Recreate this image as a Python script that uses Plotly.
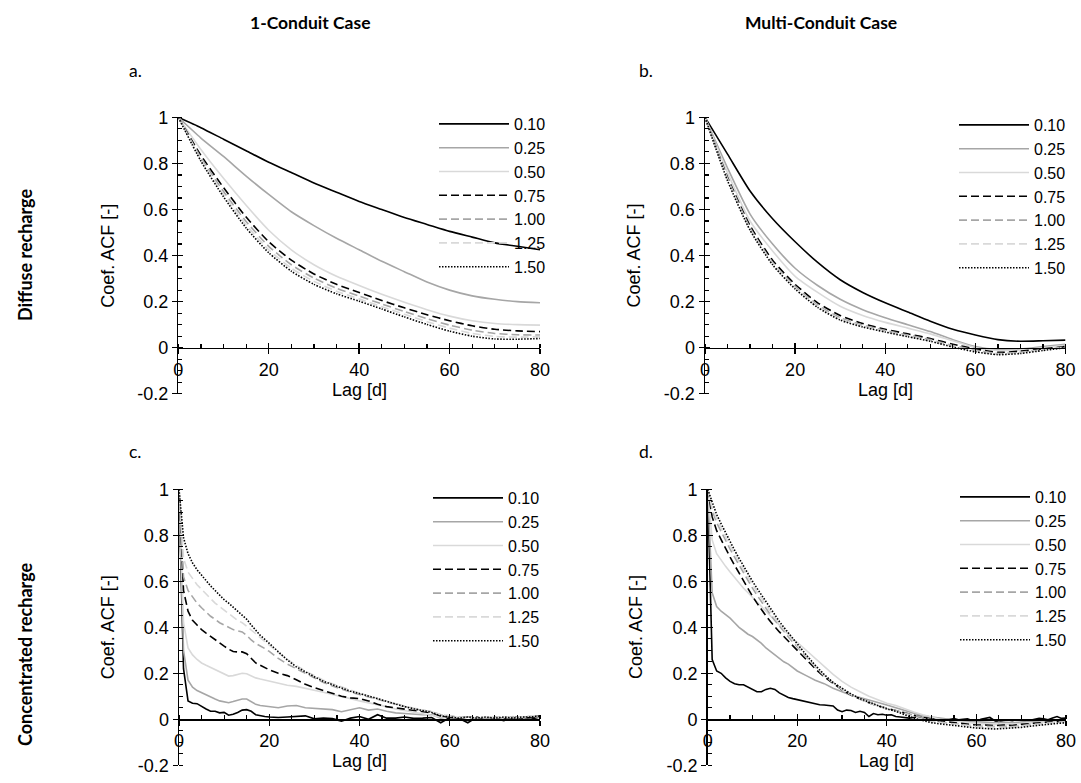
import plotly.graph_objects as go

# ---------------- data ----------------
SERIES_NAMES = ["0.10", "0.25", "0.50", "0.75", "1.00", "1.25", "1.50"]

LAG_SMOOTH = [0, 5, 10, 15, 20, 25, 30, 35, 40, 45, 50, 55, 60, 65, 70, 75, 80]
LAG_DENSE = list(range(0, 21)) + list(range(22, 81, 2))
LAG_DAILY = list(range(0, 81))

X_TICKS = [0, 20, 40, 60, 80]
Y_TICKVALS = [-0.2, 0, 0.2, 0.4, 0.6, 0.8, 1.0]
Y_TICKTEXT = ["-0.2", "0", "0.2", "0.4", "0.6", "0.8", "1"]

# a. 1-Conduit, diffuse recharge
A_010 = [1.0, 0.955, 0.905, 0.855, 0.805, 0.76, 0.715, 0.675, 0.635, 0.60, 0.565, 0.535, 0.505, 0.48, 0.455, 0.44, 0.425]
A_025 = [1.0, 0.91, 0.83, 0.745, 0.665, 0.59, 0.53, 0.475, 0.425, 0.375, 0.33, 0.285, 0.25, 0.225, 0.21, 0.2, 0.195]
A_050 = [1.0, 0.86, 0.735, 0.618, 0.51, 0.425, 0.36, 0.31, 0.27, 0.232, 0.197, 0.165, 0.137, 0.117, 0.105, 0.1, 0.098]
A_075 = [1.0, 0.835, 0.695, 0.567, 0.46, 0.38, 0.32, 0.275, 0.24, 0.205, 0.173, 0.143, 0.117, 0.095, 0.08, 0.073, 0.07]
A_100 = [1.0, 0.825, 0.678, 0.548, 0.44, 0.36, 0.302, 0.258, 0.224, 0.19, 0.157, 0.126, 0.098, 0.076, 0.062, 0.056, 0.055]
A_125 = [1.0, 0.817, 0.665, 0.533, 0.425, 0.345, 0.288, 0.245, 0.212, 0.178, 0.145, 0.113, 0.085, 0.062, 0.049, 0.046, 0.048]
A_150 = [1.0, 0.81, 0.655, 0.52, 0.412, 0.332, 0.275, 0.234, 0.202, 0.168, 0.134, 0.101, 0.072, 0.05, 0.038, 0.037, 0.04]

# b. Multi-Conduit, diffuse recharge
B_010 = [1.0, 0.84, 0.68, 0.56, 0.46, 0.37, 0.295, 0.24, 0.195, 0.155, 0.115, 0.08, 0.055, 0.035, 0.028, 0.03, 0.033]
B_025 = [1.0, 0.78, 0.58, 0.45, 0.345, 0.27, 0.21, 0.165, 0.13, 0.1, 0.07, 0.035, 0.005, -0.008, -0.005, 0.005, 0.015]
B_050 = [1.0, 0.76, 0.55, 0.42, 0.31, 0.24, 0.18, 0.14, 0.11, 0.085, 0.06, 0.03, 0.0, -0.012, -0.01, 0.0, 0.01]
B_075 = [1.0, 0.74, 0.53, 0.38, 0.275, 0.195, 0.14, 0.105, 0.08, 0.06, 0.04, 0.015, -0.005, -0.02, -0.015, -0.005, 0.005]
B_100 = [1.0, 0.735, 0.52, 0.37, 0.265, 0.185, 0.13, 0.098, 0.075, 0.055, 0.035, 0.01, -0.01, -0.025, -0.02, -0.008, 0.003]
B_125 = [1.0, 0.73, 0.515, 0.365, 0.26, 0.18, 0.125, 0.093, 0.07, 0.05, 0.03, 0.005, -0.015, -0.028, -0.022, -0.01, 0.002]
B_150 = [1.0, 0.725, 0.51, 0.36, 0.255, 0.175, 0.12, 0.09, 0.068, 0.048, 0.028, 0.003, -0.018, -0.03, -0.025, -0.012, 0.0]

# c. 1-Conduit, concentrated recharge (on LAG_DENSE)
C_010 = [1.0, 0.22, 0.08, 0.07, 0.068, 0.055, 0.045, 0.035, 0.035, 0.028, 0.03, 0.018, 0.022, 0.03, 0.04, 0.042, 0.035, 0.02, 0.015, 0.012, 0.01,
         0.008, 0.01, 0.012, 0.015, 0.002, 0.005, 0.003, -0.008, 0.005, 0.012,
         0.0, 0.02, 0.005, 0.005, 0.01, 0.004, 0.005, 0.008, -0.015, 0.008,
         0.004, -0.015, 0.01, 0.0, 0.004, -0.006, 0.008, 0.003, 0.0, 0.01]
C_025 = [1.0, 0.3, 0.17, 0.14, 0.125, 0.115, 0.105, 0.095, 0.088, 0.08, 0.075, 0.072, 0.077, 0.082, 0.088, 0.088, 0.075, 0.065, 0.06, 0.058, 0.055,
         0.05, 0.058, 0.06, 0.05, 0.048, 0.045, 0.042, 0.033, 0.042, 0.05,
         0.04, 0.045, 0.035, 0.028, 0.025, 0.022, 0.02, 0.02, 0.005, 0.012,
         0.0, 0.01, 0.005, 0.0, 0.01, 0.005, 0.01, 0.004, 0.01, 0.012]
C_050 = [1.0, 0.42, 0.31, 0.28, 0.26, 0.245, 0.235, 0.225, 0.215, 0.205, 0.195, 0.188, 0.19, 0.195, 0.2, 0.198, 0.188, 0.18, 0.175, 0.17, 0.165,
         0.155, 0.148, 0.143, 0.135, 0.128, 0.118, 0.108, 0.1, 0.09, 0.08,
         0.072, 0.065, 0.055, 0.045, 0.038, 0.03, 0.022, 0.018, 0.01, 0.015,
         0.005, 0.01, 0.0, 0.008, 0.01, 0.005, 0.012, 0.006, 0.015, 0.01]
C_075 = [1.0, 0.56, 0.47, 0.43, 0.41, 0.39, 0.375, 0.36, 0.345, 0.33, 0.318, 0.305, 0.295, 0.293, 0.293, 0.285, 0.265, 0.245, 0.235, 0.225, 0.215,
         0.2, 0.19, 0.172, 0.152, 0.138, 0.125, 0.112, 0.1, 0.093, 0.09,
         0.08, 0.065, 0.055, 0.05, 0.045, 0.04, 0.035, 0.028, 0.015, 0.01,
         0.005, 0.01, 0.005, 0.0, 0.005, 0.0, 0.01, 0.005, 0.01, 0.01]
C_100 = [1.0, 0.62, 0.56, 0.53, 0.505, 0.485, 0.465, 0.448, 0.435, 0.42, 0.41, 0.4, 0.39, 0.385, 0.38, 0.365, 0.345, 0.33, 0.32, 0.308, 0.295,
         0.265, 0.24, 0.22, 0.2, 0.18, 0.16, 0.145, 0.13, 0.118, 0.108,
         0.098, 0.085, 0.075, 0.065, 0.055, 0.045, 0.04, 0.033, 0.02, 0.015,
         0.01, 0.01, 0.005, 0.005, 0.01, 0.005, 0.01, 0.008, 0.015, 0.015]
C_125 = [1.0, 0.7, 0.64, 0.61, 0.585, 0.565, 0.545, 0.525, 0.505, 0.49, 0.475, 0.46, 0.445, 0.43, 0.42, 0.405, 0.39, 0.372, 0.355, 0.338, 0.32,
         0.29, 0.26, 0.235, 0.21, 0.19, 0.17, 0.155, 0.14, 0.125, 0.113,
         0.102, 0.09, 0.078, 0.068, 0.058, 0.048, 0.04, 0.032, 0.02, 0.015,
         0.008, 0.01, 0.005, 0.01, 0.005, 0.01, 0.006, 0.01, 0.015, 0.015]
C_150 = [1.0, 0.79, 0.72, 0.68, 0.65, 0.625, 0.6, 0.58, 0.56, 0.54, 0.52, 0.505, 0.488, 0.47, 0.455, 0.435, 0.41, 0.385, 0.365, 0.348, 0.33,
         0.29, 0.258, 0.228, 0.205, 0.185, 0.165, 0.15, 0.135, 0.122, 0.112,
         0.102, 0.09, 0.078, 0.066, 0.055, 0.046, 0.038, 0.03, 0.015, 0.01,
         0.005, 0.01, 0.005, 0.01, 0.005, 0.01, 0.005, 0.01, 0.01, 0.015]

# d. Multi-Conduit, concentrated recharge (0.10 on LAG_DAILY, others on LAG_DENSE)
D_010 = [1.0, 0.26, 0.21, 0.2, 0.18, 0.165, 0.155, 0.15, 0.15, 0.14, 0.13,
         0.12, 0.12, 0.13, 0.135, 0.13, 0.115, 0.105, 0.095, 0.09, 0.085,
         0.08, 0.075, 0.07, 0.065, 0.063, 0.062, 0.06, 0.058, 0.04, 0.033,
         0.04, 0.038, 0.03, 0.035, 0.03, 0.012, 0.025, 0.02, 0.022, 0.018,
         0.02, 0.012, 0.01, 0.008, 0.005, 0.008, 0.01, 0.005, 0.012, 0.01,
         -0.003, 0.002, -0.002, 0.0, 0.003, -0.002, 0.0, 0.002, -0.005, -0.01,
         0.0, 0.005, 0.008, -0.005, -0.014, -0.005, -0.003, -0.006, -0.002, -0.005,
         -0.008, -0.004, 0.0, 0.004, 0.002, -0.002, 0.006, 0.012, 0.004, 0.005]
D_025 = [1.0, 0.55, 0.49, 0.47, 0.455, 0.44, 0.42, 0.4, 0.385, 0.37, 0.36, 0.345, 0.33, 0.31, 0.295, 0.28, 0.265, 0.25, 0.24, 0.225, 0.21,
         0.19, 0.17, 0.155, 0.135, 0.12, 0.105, 0.095, 0.085, 0.075, 0.062,
         0.05, 0.038, 0.025, 0.015, 0.01, 0.005, 0.0, -0.005, -0.01, -0.01,
         -0.012, -0.015, -0.012, -0.015, -0.012, -0.01, -0.008, -0.005, -0.005, -0.003]
D_050 = [1.0, 0.78, 0.72, 0.69, 0.665, 0.64, 0.615, 0.59, 0.57, 0.55, 0.53, 0.51, 0.49, 0.47, 0.45, 0.43, 0.41, 0.39, 0.37, 0.35, 0.335,
         0.3, 0.265, 0.23, 0.195, 0.165, 0.14, 0.12, 0.1, 0.085, 0.07,
         0.06, 0.045, 0.032, 0.02, 0.01, 0.0, -0.005, -0.01, -0.015, -0.018,
         -0.02, -0.022, -0.02, -0.022, -0.018, -0.015, -0.012, -0.01, -0.008, -0.005]
D_075 = [1.0, 0.88, 0.82, 0.78, 0.74, 0.705, 0.67, 0.635, 0.6, 0.565, 0.535, 0.505, 0.475, 0.45, 0.425, 0.4, 0.38, 0.36, 0.34, 0.32, 0.3,
         0.26, 0.22, 0.185, 0.155, 0.128, 0.105, 0.087, 0.072, 0.058, 0.047,
         0.038, 0.028, 0.018, 0.008, 0.0, -0.008, -0.012, -0.018, -0.022, -0.025,
         -0.025, -0.028, -0.025, -0.027, -0.022, -0.018, -0.015, -0.012, -0.01, -0.008]
D_100 = [1.0, 0.91, 0.855, 0.815, 0.775, 0.74, 0.705, 0.67, 0.635, 0.6, 0.57, 0.54, 0.51, 0.48, 0.455, 0.43, 0.405, 0.38, 0.36, 0.335, 0.315,
         0.27, 0.228, 0.19, 0.16, 0.13, 0.108, 0.088, 0.072, 0.058, 0.047,
         0.038, 0.028, 0.015, 0.005, -0.005, -0.012, -0.018, -0.022, -0.028, -0.03,
         -0.03, -0.032, -0.03, -0.032, -0.028, -0.022, -0.02, -0.015, -0.012, -0.01]
D_125 = [1.0, 0.92, 0.87, 0.83, 0.79, 0.755, 0.72, 0.685, 0.65, 0.615, 0.585, 0.555, 0.525, 0.495, 0.465, 0.44, 0.415, 0.39, 0.365, 0.34, 0.32,
         0.275, 0.23, 0.19, 0.16, 0.13, 0.108, 0.088, 0.072, 0.058, 0.045,
         0.035, 0.025, 0.01, 0.0, -0.01, -0.015, -0.02, -0.025, -0.03, -0.032,
         -0.035, -0.035, -0.033, -0.035, -0.03, -0.025, -0.022, -0.018, -0.015, -0.012]
D_150 = [1.0, 0.94, 0.89, 0.85, 0.81, 0.77, 0.735, 0.7, 0.665, 0.63, 0.6, 0.57, 0.54, 0.51, 0.48, 0.45, 0.425, 0.4, 0.375, 0.35, 0.325,
         0.28, 0.235, 0.195, 0.16, 0.135, 0.11, 0.09, 0.075, 0.06, 0.045,
         0.035, 0.02, 0.005, -0.005, -0.015, -0.02, -0.025, -0.03, -0.035, -0.038,
         -0.04, -0.042, -0.04, -0.038, -0.035, -0.03, -0.025, -0.02, -0.018, -0.015]

# ---------------- styles / layout ----------------
W, H = 1081, 783   # page margin is removed by the post script below

def fx(p):  # page pixel x -> paper fraction
    return p / W

def fy(p):  # page pixel y -> paper fraction
    return 1 - p / H

TICK_FONT = dict(family="Liberation Sans, Arial, sans-serif", size=18, color="black")
LEG_FONT = dict(family="Liberation Sans, Arial, sans-serif", size=16, color="black")
HEAD_FONT = dict(family="Lato, Carlito, Calibri, sans-serif", size=17.5, color="black")

STYLES = [
    dict(color="#000000", dash="solid"),
    dict(color="#a6a6a6", dash="solid"),
    dict(color="#d9d9d9", dash="solid"),
    dict(color="#000000", dash="8px,4px"),
    dict(color="#a6a6a6", dash="8px,4px"),
    dict(color="#d9d9d9", dash="8px,4px"),
    dict(color="#000000", dash="1.5px,1.5px"),
]

PANELS = [
    # key, (left, right, top, bottom) page px, series, line shape, legend (line-start x, top y) page px
    ("a", (178.3, 540.0, 117.3, 393.8),
     [(LAG_SMOOTH, A_010), (LAG_SMOOTH, A_025), (LAG_SMOOTH, A_050), (LAG_SMOOTH, A_075),
      (LAG_SMOOTH, A_100), (LAG_SMOOTH, A_125), (LAG_SMOOTH, A_150)], "spline", (439, 107)),
    ("b", (705.0, 1065.5, 117.3, 393.8),
     [(LAG_SMOOTH, B_010), (LAG_SMOOTH, B_025), (LAG_SMOOTH, B_050), (LAG_SMOOTH, B_075),
      (LAG_SMOOTH, B_100), (LAG_SMOOTH, B_125), (LAG_SMOOTH, B_150)], "spline", (959, 108)),
    ("c", (179.0, 540.0, 489.3, 765.3),
     [(LAG_DENSE, C_010), (LAG_DENSE, C_025), (LAG_DENSE, C_050), (LAG_DENSE, C_075),
      (LAG_DENSE, C_100), (LAG_DENSE, C_125), (LAG_DENSE, C_150)], "linear", (433, 481)),
    ("d", (707.7, 1066.0, 489.3, 765.3),
     [(LAG_DAILY, D_010), (LAG_DENSE, D_025), (LAG_DENSE, D_050), (LAG_DENSE, D_075),
      (LAG_DENSE, D_100), (LAG_DENSE, D_125), (LAG_DENSE, D_150)], "linear", (960, 480)),
]

YR = [-0.2, 1.0]
XR = [0, 80]

fig = go.Figure()
layout = {}
annotations = []

def ann(text, x, y, font, xanchor="center", yanchor="middle", angle=0):
    annotations.append(dict(text=text, x=fx(x), y=fy(y), xref="paper", yref="paper",
                            showarrow=False, font=font, xanchor=xanchor, yanchor=yanchor,
                            textangle=angle))

for i, (key, (l, r, t, b), series, shape, (lgx, lgy)) in enumerate(PANELS, start=1):
    xs = "" if i == 1 else str(i)
    xname, yname = "x" + xs, "y" + xs
    lgname = "legend" + xs
    ox, oy = str(i + 4), str(i + 4)

    for name, (lag, vals), st in zip(SERIES_NAMES, series, STYLES):
        line = dict(color=st["color"], dash=st["dash"], width=1.6, shape=shape)
        if shape == "spline":
            line["smoothing"] = 0.6
        fig.add_trace(go.Scatter(
            x=lag, y=vals, name=name, mode="lines", line=line,
            xaxis=xname, yaxis=yname, legend=lgname, hoverinfo="skip",
        ))
    # helper traces so the overlay (crossing-tick) axes are drawn
    fig.add_trace(go.Scatter(x=[None], y=[None], xaxis="x" + ox, yaxis=yname,
                             showlegend=False, hoverinfo="skip"))
    fig.add_trace(go.Scatter(x=[None], y=[None], xaxis=xname, yaxis="y" + oy,
                             showlegend=False, hoverinfo="skip"))

    xdom = [fx(l), fx(r)]
    ydom = [fy(b), fy(t)]
    pos0 = ydom[0] + (0 - YR[0]) / (YR[1] - YR[0]) * (ydom[1] - ydom[0])
    zero_px = t + (YR[1] - 0) / (YR[1] - YR[0]) * (b - t)

    layout["xaxis" + xs] = dict(
        domain=xdom, range=XR, anchor="free", position=pos0, automargin=False,
        showline=True, linecolor="black", linewidth=1.5,
        ticks="outside", ticklen=5, tickwidth=1.3, tickcolor="black",
        tickmode="array", tickvals=X_TICKS, tickfont=TICK_FONT,
        minor=dict(tickmode="linear", tick0=0, dtick=5, ticks="inside",
                   ticklen=4, tickwidth=1.2, tickcolor="black"),
        showgrid=False, zeroline=False,
    )
    layout["xaxis" + ox] = dict(
        overlaying=xname, range=XR, anchor="free", position=pos0, automargin=False,
        showline=False, ticks="inside", ticklen=5, tickwidth=1.3, tickcolor="black",
        tickmode="array", tickvals=X_TICKS, showticklabels=False,
        showgrid=False, zeroline=False,
    )
    layout["yaxis" + xs] = dict(
        domain=ydom, range=YR, anchor=xname, automargin=False,
        showline=True, linecolor="black", linewidth=1.5,
        ticks="outside", ticklen=5, tickwidth=1.3, tickcolor="black",
        tickmode="array", tickvals=Y_TICKVALS, ticktext=Y_TICKTEXT, tickfont=TICK_FONT,
        minor=dict(tickmode="linear", tick0=0, dtick=0.05, ticks="inside",
                   ticklen=4, tickwidth=1.2, tickcolor="black"),
        showgrid=False, zeroline=False,
    )
    layout["yaxis" + oy] = dict(
        overlaying=yname, range=YR, anchor=xname, side="left", automargin=False,
        showline=False, ticks="inside", ticklen=5, tickwidth=1.3, tickcolor="black",
        tickmode="array", tickvals=Y_TICKVALS, showticklabels=False,
        showgrid=False, zeroline=False,
    )
    layout[lgname] = dict(
        x=fx(lgx - 5), y=fy(lgy), xanchor="left", yanchor="top",
        font=LEG_FONT, bgcolor="rgba(0,0,0,0)", borderwidth=0,
        itemwidth=70, traceorder="normal", tracegroupgap=0,
    )
    # axis titles
    ann("Lag [d]", (l + r) / 2, zero_px + 42, TICK_FONT)
    ann("Coef. ACF [-]", l - 71, (t + b) / 2, TICK_FONT, angle=-90)

bold = dict(HEAD_FONT, weight="bold")
ann("1-Conduit Case", 310, 23, bold)
ann("Multi-Conduit Case", 821, 23, bold)
ann("a.", 127, 71, HEAD_FONT, xanchor="left")
ann("b.", 637, 71, HEAD_FONT, xanchor="left")
ann("c.", 127, 451, HEAD_FONT, xanchor="left")
ann("d.", 637, 451, HEAD_FONT, xanchor="left")
ann("Diffuse recharge", 25, 255, dict(bold, size=18), angle=-90)
ann("Concentrated recharge", 25, 655, dict(bold, size=18), angle=-90)

fig.update_layout(
    width=W, height=H,
    margin=dict(l=0, r=0, t=0, b=0, autoexpand=False),
    paper_bgcolor="white", plot_bgcolor="white",
    annotations=annotations,
    **layout,
)

fig.write_html(
    "out.html",
    config={"displayModeBar": False, "staticPlot": True},
    post_script="document.body.style.margin='0';document.body.style.overflow='hidden';",
)
